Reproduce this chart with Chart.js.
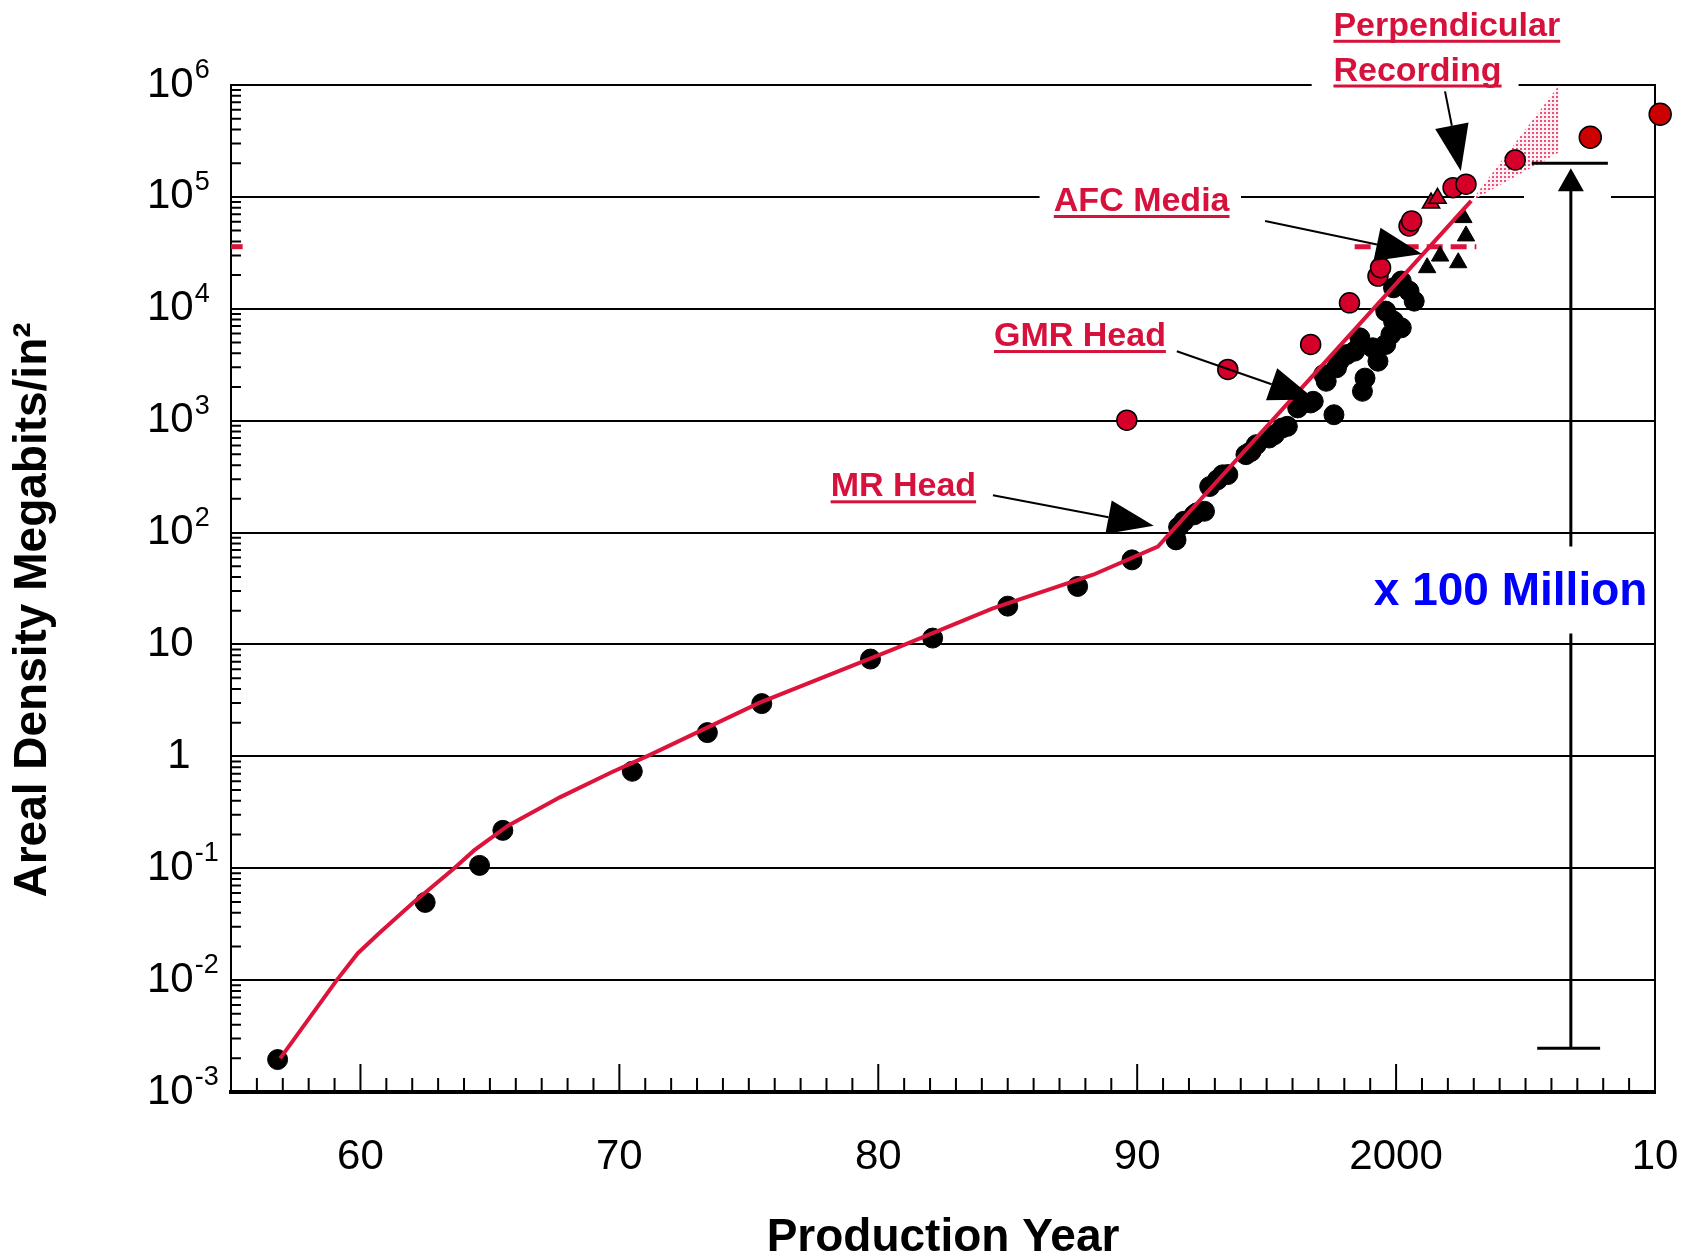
<!DOCTYPE html>
<html>
<head>
<meta charset="utf-8">
<script src="https://cdn.jsdelivr.net/npm/chart.js@4.4.1/dist/chart.umd.min.js"></script>
<style>
  html, body { margin: 0; padding: 0; background: #fff; }
</style>
</head>
<body>
<canvas id="myChart" width="1707" height="1257"></canvas>
<script>
const ctx = document.getElementById('myChart').getContext('2d');

// Ticks
const xTickYears = [1960, 1970, 1980, 1990, 2000, 2010];
const xTickLabels = ['60', '70', '80', '90', '2000', '10'];
const yTickValues = [1e-3, 1e-2, 1e-1, 1, 10, 1e2, 1e3, 1e4, 1e5, 1e6];
const yTickBase = ['10', '10', '10', '1', '10', '10', '10', '10', '10', '10'];
const yTickPower = ['-3', '-2', '-1', '', '', '2', '3', '4', '5', '6'];

// Trend line (red)
const trendYears = [1956.9, 1959.1, 1959.9, 1960.7, 1962.0, 1963.6, 1964.4, 1965.7, 1967.7, 1969.7, 1971.1, 1975.4, 1980.6, 1984.4, 1988.3, 1990.8, 2002.9];
const trendValues = [0.002, 0.0101, 0.0174, 0.026, 0.0484, 0.099, 0.145, 0.24, 0.43, 0.72, 1.01, 3.0, 9.1, 20.9, 42, 75, 92000];

// Products (black circles)
const productYears = [1956.8, 1962.5, 1964.6, 1965.5, 1970.5, 1973.4, 1975.5, 1979.7, 1982.1, 1985.0, 1987.7, 1989.8, 1991.5, 1991.6, 1991.8, 1992.3, 1992.8, 1993.1, 1993.5, 1994.2, 1994.6, 1995.3, 1995.6, 1996.2, 1996.8, 1997.6, 1997.3, 1997.7, 1998.1, 1998.6, 1998.7, 1998.8, 1999.3, 1999.6, 2000.2, 1999.6, 2000.5, 2000.7, 2000.2,
  1992.2, 1992.6, 1993.3, 1994.4, 1995.1, 1995.8, 1996.7, 1997.2, 1997.8, 1998.4, 1999.1, 1999.8, 1999.9, 1999.9];
const productValues = [0.00195, 0.0495, 0.106, 0.218, 0.735, 1.63, 2.96, 7.4, 11.4, 22, 33, 57, 86, 112, 126, 150, 258, 296, 330, 497, 610, 750, 860, 1300, 1490, 1130, 2250, 2970, 3900, 5500, 1830, 2400, 3400, 4800, 6760, 9530, 14400, 11700, 17700,
  144, 155, 328, 531, 700, 890, 1440, 2580, 3400, 4180, 4480, 5890, 7760, 15400];

// Products (black triangles)
const triYears = [2002.6, 2002.7, 2002.4, 2001.7, 2001.2];
const triValues = [65300, 44800, 25800, 29600, 23300];

// Demos (red)
const demoYears = [1989.6, 1993.5, 1996.7, 1998.2, 1999.3, 1999.4, 2000.5, 2000.6, 2002.2, 2002.7, 2004.6];
const demoValues = [1010, 2870, 4800, 11300, 19600, 23300, 55000, 61000, 121000, 130000, 214000];
const demoTriYears = [2001.35, 2001.6];
const demoTriValues = [88000, 97000];
const futureYears = [2007.5, 2010.2];
const futureValues = [341000, 547000];

// Perpendicular recording wedge
const wedgeYears = [2002.9, 2006.3];
const wedgeTop = [92000, 1000000];
const wedgeBottom = [92000, 250000];

// AFC level (dashed red)
const afcYears = [1998.4, 2003.1];
const afcValues = [35900, 35900];
const afcMarkYears = [1955, 1955.45];

const pts = (xs, ys) => xs.map((v, i) => ({ x: v, y: ys[i] }));

const FONT = '"Liberation Sans", Arial, sans-serif';
const CRIMSON = '#D6123C';
const LINE_RED = '#DC143C';

// dotted pink fill
const pc = document.createElement('canvas');
pc.width = 4; pc.height = 4;
const pctx = pc.getContext('2d');
pctx.fillStyle = '#fff0f4';
pctx.fillRect(0, 0, 4, 4);
pctx.fillStyle = '#ee4f7c';
pctx.fillRect(0, 0, 2, 2);
const wedgeFill = ctx.createPattern(pc, 'repeat');

// annotation settings (data coordinates)
const gaps = [
  { from: 1996.74, to: 2004.73, at: 1e6 },
  { from: 1986.23, to: 1994.01, at: 1e5 },
  { from: 2004.94, to: 2008.3, at: 1e5 }
];
const notes = [
  { text: 'Perpendicular', x: 1997.58, y: Math.pow(10, 6.44) },
  { text: 'Recording', x: 1997.58, y: Math.pow(10, 6.04) },
  { text: 'AFC Media', x: 1986.78, y: Math.pow(10, 4.874) },
  { text: 'GMR Head', x: 1984.47, y: Math.pow(10, 3.667) },
  { text: 'MR Head', x: 1978.16, y: Math.pow(10, 2.324) }
];
const arrows = [
  { x1: 2001.89, y1: Math.pow(10, 5.943), x2: 2002.5, y2: Math.pow(10, 5.232) },
  { x1: 1994.94, y1: Math.pow(10, 4.785), x2: 2001.0, y2: Math.pow(10, 4.49) },
  { x1: 1991.53, y1: Math.pow(10, 3.621), x2: 1996.87, y2: Math.pow(10, 3.19) },
  { x1: 1984.43, y1: Math.pow(10, 2.333), x2: 1990.64, y2: Math.pow(10, 2.061) }
];
const bracket = {
  x: 2006.75, top: Math.pow(10, 5.30), bottom: Math.pow(10, -2.609),
  gapTop: Math.pow(10, 1.876), gapBottom: Math.pow(10, 1.097),
  capTop: [2005.24, 2008.18], capBottom: [2005.45, 2007.88],
  text: 'x 100 Million', textX: 1999.14, textY: Math.pow(10, 1.35)
};
const yTitle = 'Areal Density Megabits/in²';

function drawArrow(c, x1, y1, x2, y2, len, half) {
  const ang = Math.atan2(y2 - y1, x2 - x1);
  const bx = x2 - len * Math.cos(ang), by = y2 - len * Math.sin(ang);
  c.beginPath();
  c.moveTo(x1, y1);
  c.lineTo(bx, by);
  c.stroke();
  c.beginPath();
  c.moveTo(x2, y2);
  c.lineTo(bx + half * Math.sin(ang), by - half * Math.cos(ang));
  c.lineTo(bx - half * Math.sin(ang), by + half * Math.cos(ang));
  c.closePath();
  c.fill();
}

const overlay = {
  id: 'overlay',
  beforeDatasetsDraw(chart) {
    const { ctx: c, chartArea: a, scales: { x, y } } = chart;
    c.save();
    c.fillStyle = '#fff';
    gaps.forEach(g => {
      const x1 = x.getPixelForValue(g.from), x2 = x.getPixelForValue(g.to);
      const yy = y.getPixelForValue(g.at);
      c.fillRect(x1, yy - 3, x2 - x1, 6);
    });
    c.strokeStyle = '#000';
    c.lineWidth = 2;
    c.beginPath();
    for (let d = -3; d < 6; d++) {
      for (let m = 2; m <= 9; m++) {
        const yy = y.getPixelForValue(m * Math.pow(10, d));
        c.moveTo(a.left, yy);
        c.lineTo(a.left + 10, yy);
      }
    }
    for (let yr = 1956; yr < 2010; yr++) {
      const xx = x.getPixelForValue(yr);
      const len = yr % 10 === 0 ? 28 : 14;
      c.moveTo(xx, a.bottom);
      c.lineTo(xx, a.bottom - len);
    }
    c.moveTo(a.right, a.top - 1);
    c.lineTo(a.right, a.bottom);
    c.stroke();

    // y tick labels with superscript powers
    c.fillStyle = '#000';
    yTickValues.forEach((v, i) => {
      const yy = y.getPixelForValue(v);
      c.font = '42px ' + FONT;
      c.textBaseline = 'middle';
      if (!yTickPower[i] && yTickBase[i].length === 1) {
        c.textAlign = 'center';
        c.fillText(yTickBase[i], 179, yy);
        return;
      }
      c.textAlign = 'left';
      c.fillText(yTickBase[i], 147, yy);
      if (yTickPower[i]) {
        const w = c.measureText(yTickBase[i]).width;
        c.font = '27px ' + FONT;
        c.textBaseline = 'alphabetic';
        c.fillText(yTickPower[i], 147 + w + 1, yy - 7);
      }
    });

    // y axis title
    c.save();
    c.translate(33, 610);
    c.rotate(-Math.PI / 2);
    c.font = 'bold 46px ' + FONT;
    c.textAlign = 'center';
    c.textBaseline = 'middle';
    c.fillText(yTitle, 0, 0);
    c.restore();
    c.restore();
  },
  afterDatasetsDraw(chart) {
    const { ctx: c, scales: { x, y } } = chart;
    c.save();
    // labels
    c.font = 'bold 34px ' + FONT;
    c.textBaseline = 'alphabetic';
    c.textAlign = 'left';
    notes.forEach(n => {
      const px = x.getPixelForValue(n.x), py = y.getPixelForValue(n.y);
      const w = c.measureText(n.text).width;
      c.fillStyle = CRIMSON;
      c.fillText(n.text, px, py);
      c.fillRect(px, py + 4, w, 3);
    });
    // arrows
    c.strokeStyle = '#000';
    c.fillStyle = '#000';
    c.lineWidth = 2;
    arrows.forEach(r => {
      drawArrow(c, x.getPixelForValue(r.x1), y.getPixelForValue(r.y1),
        x.getPixelForValue(r.x2), y.getPixelForValue(r.y2), 46, 17);
    });
    // x 100 Million bracket
    const bx = x.getPixelForValue(bracket.x);
    const top = y.getPixelForValue(bracket.top);
    const bottom = y.getPixelForValue(bracket.bottom);
    c.lineWidth = 3;
    c.beginPath();
    c.moveTo(bx, top + 20);
    c.lineTo(bx, y.getPixelForValue(bracket.gapTop));
    c.moveTo(bx, y.getPixelForValue(bracket.gapBottom));
    c.lineTo(bx, bottom);
    c.moveTo(x.getPixelForValue(bracket.capTop[0]), top);
    c.lineTo(x.getPixelForValue(bracket.capTop[1]), top);
    c.moveTo(x.getPixelForValue(bracket.capBottom[0]), bottom);
    c.lineTo(x.getPixelForValue(bracket.capBottom[1]), bottom);
    c.stroke();
    c.beginPath();
    c.moveTo(bx, top + 5);
    c.lineTo(bx - 13, top + 28);
    c.lineTo(bx + 13, top + 28);
    c.closePath();
    c.fill();
    c.font = 'bold 46px ' + FONT;
    c.fillStyle = '#0000FF';
    c.fillText(bracket.text, x.getPixelForValue(bracket.textX), y.getPixelForValue(bracket.textY));
    c.restore();
  }
};

const data = {
  datasets: [
    {
      label: 'Future',
      data: pts(futureYears, futureValues),
      pointRadius: 11,
      backgroundColor: '#CC0000',
      borderColor: '#000',
      pointBorderWidth: 1.5,
      clip: false
    },
    {
      label: 'Demos',
      data: pts(demoYears, demoValues),
      pointRadius: 10,
      backgroundColor: '#D4002A',
      borderColor: '#000',
      pointBorderWidth: 1.5
    },
    {
      label: 'Demos (perpendicular)',
      data: pts(demoTriYears, demoTriValues),
      pointStyle: 'triangle',
      pointRadius: 10,
      backgroundColor: '#D4002A',
      borderColor: '#000',
      pointBorderWidth: 1.5
    },
    {
      label: 'Trend',
      data: pts(trendYears, trendValues),
      showLine: true,
      borderColor: LINE_RED,
      borderWidth: 4,
      pointRadius: 0,
      tension: 0
    },
    {
      label: 'Products (triangles)',
      data: pts(triYears, triValues),
      pointStyle: 'triangle',
      pointRadius: 10,
      backgroundColor: '#000',
      borderColor: '#000'
    },
    {
      label: 'Products',
      data: pts(productYears, productValues),
      pointRadius: 10,
      backgroundColor: '#000',
      borderColor: '#000'
    },
    {
      label: 'AFC level',
      data: pts(afcYears, afcValues),
      showLine: true,
      borderColor: LINE_RED,
      borderWidth: 5,
      borderDash: [16, 8],
      pointRadius: 0
    },
    {
      label: 'AFC mark',
      data: pts(afcMarkYears, afcValues),
      showLine: true,
      borderColor: LINE_RED,
      borderWidth: 5,
      pointRadius: 0
    },
    {
      label: 'Perpendicular upper',
      data: pts(wedgeYears, wedgeTop),
      showLine: true,
      borderWidth: 0,
      borderColor: 'rgba(0,0,0,0)',
      pointRadius: 0,
      fill: '+1',
      backgroundColor: wedgeFill
    },
    {
      label: 'Perpendicular lower',
      data: pts(wedgeYears, wedgeBottom),
      showLine: true,
      borderWidth: 0,
      borderColor: 'rgba(0,0,0,0)',
      pointRadius: 0
    }
  ]
};

const config = {
  type: 'scatter',
  data: data,
  options: {
    responsive: false,
    animation: false,
    layout: { padding: { top: 85, right: 52, bottom: 0, left: 0 } },
    plugins: {
      legend: { display: false },
      tooltip: { enabled: false }
    },
    scales: {
      x: {
        type: 'linear',
        position: 'bottom',
        min: 1955,
        max: 2010,
        afterBuildTicks: s => { s.ticks = xTickYears.map(v => ({ value: v })); },
        afterFit: s => { s.height = 165; s.paddingLeft = 0; s.paddingRight = 0; },
        ticks: {
          autoSkip: false,
          maxRotation: 0,
          padding: 40,
          color: '#000',
          font: { family: FONT, size: 42 },
          callback: (v, i) => xTickLabels[i]
        },
        grid: { display: true, drawOnChartArea: false, drawTicks: false },
        border: { display: true, color: '#000', width: 4 },
        title: {
          display: true,
          text: 'Production Year',
          color: '#000',
          font: { family: FONT, size: 46, weight: 'bold', lineHeight: 0.8 },
          padding: { top: 0, bottom: 0 }
        }
      },
      y: {
        type: 'logarithmic',
        min: 1e-3,
        max: 1e6,
        afterBuildTicks: s => { s.ticks = yTickValues.map(v => ({ value: v, major: true })); },
        afterFit: s => { s.width = 231; s.paddingTop = 0; s.paddingBottom = 0; },
        ticks: { display: false },
        grid: { color: '#000', lineWidth: 2, drawTicks: false },
        border: { display: true, color: '#000', width: 2 }
      }
    }
  },
  plugins: [overlay]
};

const myChart = new Chart(ctx, config);
</script>
</body>
</html>
